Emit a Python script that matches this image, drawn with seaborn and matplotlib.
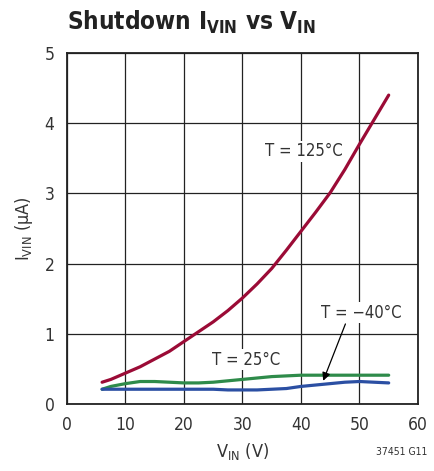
import matplotlib
matplotlib.use("Agg")
import matplotlib.pyplot as plt
import seaborn as sns
import pandas as pd

# values
vin = [6, 7.5, 10, 12.5, 15, 17.5, 20, 22.5, 25, 27.5, 30, 32.5, 35,
       37.5, 40, 42.5, 45, 47.5, 50, 52.5, 55]
i_125 = [0.31, 0.35, 0.44, 0.53, 0.64, 0.75, 0.89, 1.03, 1.17, 1.33, 1.51,
         1.71, 1.93, 2.19, 2.46, 2.73, 3.01, 3.34, 3.70, 4.05, 4.40]
i_25 = [0.21, 0.25, 0.29, 0.32, 0.32, 0.31, 0.30, 0.30, 0.31, 0.33, 0.35,
        0.37, 0.39, 0.40, 0.41, 0.41, 0.41, 0.41, 0.41, 0.41, 0.41]
i_m40 = [0.21, 0.21, 0.21, 0.21, 0.21, 0.21, 0.21, 0.21, 0.21, 0.20, 0.20,
         0.20, 0.21, 0.22, 0.25, 0.27, 0.29, 0.31, 0.32, 0.31, 0.30]

xticks = [0, 10, 20, 30, 40, 50, 60]
yticks = [0, 1, 2, 3, 4, 5]

RED = "#9b0b36"
GREEN = "#2e8b4a"
BLUE = "#2b4fa3"

sns.set_style("white")
plt.rcParams["font.family"] = ["Liberation Sans Narrow", "DejaVu Sans"]
plt.rcParams["font.stretch"] = "condensed"

fig = plt.figure(figsize=(4.34, 4.71), dpi=100)
ax = fig.add_axes([0.1544, 0.1423, 0.8086, 0.7452])

df = pd.DataFrame({"vin": vin, "t125": i_125, "t25": i_25, "tm40": i_m40})
sns.lineplot(data=df, x="vin", y="t125", color=RED, lw=2.3, ax=ax, zorder=3)
sns.lineplot(data=df, x="vin", y="t25", color=GREEN, lw=2.3, ax=ax, zorder=3)
sns.lineplot(data=df, x="vin", y="tm40", color=BLUE, lw=2.3, ax=ax, zorder=3)

ax.set_xlim(0, 60)
ax.set_ylim(0, 5)
ax.set_xticks(xticks)
ax.set_yticks(yticks)
ax.tick_params(length=0, labelsize=12.5, colors="#333333", pad=9)
ax.grid(True, color="#222222", lw=0.9)
for s in ax.spines.values():
    s.set_color("#222222")
    s.set_linewidth(1.3)

ax.set_xlabel("V$_{\\mathregular{IN}}$ (V)", fontsize=13, color="#333333", labelpad=5)
ax.set_ylabel("I$_{\\mathregular{VIN}}$ (μA)", fontsize=13, color="#333333", labelpad=7)

box = dict(facecolor="white", edgecolor="none", pad=1)
ax.text(40.5, 3.6, "T = 125°C", fontsize=12, color="#333333",
        ha="center", va="center", bbox=box, zorder=2)
ax.text(30.7, 0.63, "T = 25°C", fontsize=12, color="#333333",
        ha="center", va="center", bbox=box, zorder=2)
ax.text(50.3, 1.30, "T = −40°C", fontsize=12, color="#333333",
        ha="center", va="center", bbox=box, zorder=2)
ax.annotate("", xy=(43.8, 0.33), xytext=(47.6, 1.14),
            arrowprops=dict(arrowstyle="-|>", color="black", lw=0.9,
                            mutation_scale=12, shrinkA=0, shrinkB=0),
            zorder=5)

fig.text(0.154, 0.953, "Shutdown I$_{\\mathregular{VIN}}$ vs V$_{\\mathregular{IN}}$",
         fontsize=17.5, fontweight="bold", color="#222222", ha="left", va="center")
fig.text(0.985, 0.04, "37451 G11", fontsize=7.5, color="#333333", ha="right", va="center")

fig.savefig("out.png", dpi=100)
